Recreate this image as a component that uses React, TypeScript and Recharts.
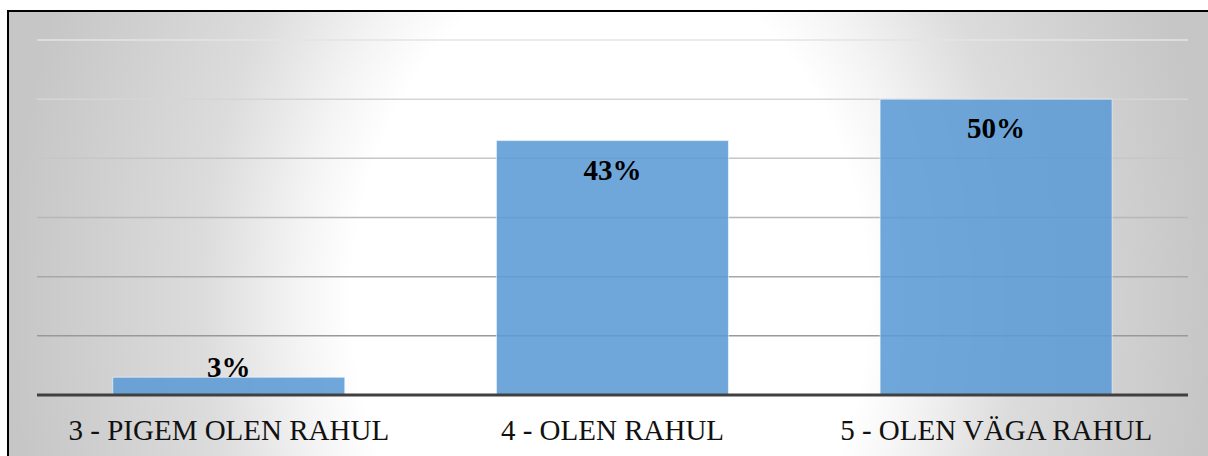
import React from 'react';
import { BarChart, Bar, XAxis, YAxis, CartesianGrid, LabelList } from 'recharts';

const categories = ['3 - PIGEM OLEN RAHUL', '4 - OLEN RAHUL', '5 - OLEN VÄGA RAHUL'];
const shares = [3, 43, 50];
const yTicks = [0, 10, 20, 30, 40, 50, 60];

const data = categories.map((name, i) => ({ name, value: shares[i] }));

const FONT = '"Liberation Serif", "Times New Roman", serif';

function CategoryTick({ x, y, payload }: any) {
  return (
    <text x={x} y={y} dy={37} textAnchor="middle" style={{ fontFamily: FONT }} fontSize={29} fill="#111">
      {payload.value}
    </text>
  );
}

function ValueLabel({ x, y, width, height, value }: any) {
  // inside end, but pushed up when the bar is too short for the text
  const baseline = Math.min(y + 39, y + height - 18.5);
  return (
    <text
      x={x + width / 2}
      y={baseline}
      textAnchor="middle"
      style={{ fontFamily: FONT }}
      fontSize={29}
      fontWeight="bold"
      fill="#000"
    >
      {`${value}%`}
    </text>
  );
}

export default function App() {
  return (
    <div style={{ position: 'fixed', left: 0, top: 0, width: 1208, height: 456, overflow: 'hidden', background: '#fff' }}>
      <div
        style={{
          position: 'absolute',
          left: 7,
          top: 10,
          width: 1210,
          height: 460,
          borderTop: '2px solid #000',
          borderLeft: '2px solid #000',
          background:
            'radial-gradient(ellipse 600px 787px at 601px 288px, #ffffff 0%, #ffffff 43%, #f4f4f4 52%, #dcdcdc 68%, #c6c6c6 100%)',
        }}
      />
      <div style={{ position: 'absolute', left: 0, top: 0 }}>
        <BarChart
          width={1208}
          height={456}
          data={data}
          margin={{ top: 40, right: 20, bottom: 0, left: 37 }}
          barCategoryGap="19.75%"
        >
          <defs>
            <linearGradient id="gridFade" gradientUnits="userSpaceOnUse" x1="0" y1="40" x2="0" y2="395">
              <stop offset="0%" stopColor="#e4e4e4" />
              <stop offset="100%" stopColor="#8a8a8a" />
            </linearGradient>
          </defs>
          <CartesianGrid vertical={false} stroke="url(#gridFade)" strokeWidth={1.5} />
          <YAxis hide domain={[0, 60]} ticks={yTicks} />
          <XAxis
            dataKey="name"
            height={61}
            axisLine={{ stroke: '#404040', strokeWidth: 3 }}
            tickLine={false}
            tick={<CategoryTick />}
            interval={0}
          />
          <Bar
            dataKey="value"
            fill="#5B9BD5"
            fillOpacity={0.88}
            stroke="#ffffff"
            strokeOpacity={0.55}
            strokeWidth={1}
            isAnimationActive={false}
          >
            <LabelList dataKey="value" content={<ValueLabel />} />
          </Bar>
        </BarChart>
      </div>
    </div>
  );
}
